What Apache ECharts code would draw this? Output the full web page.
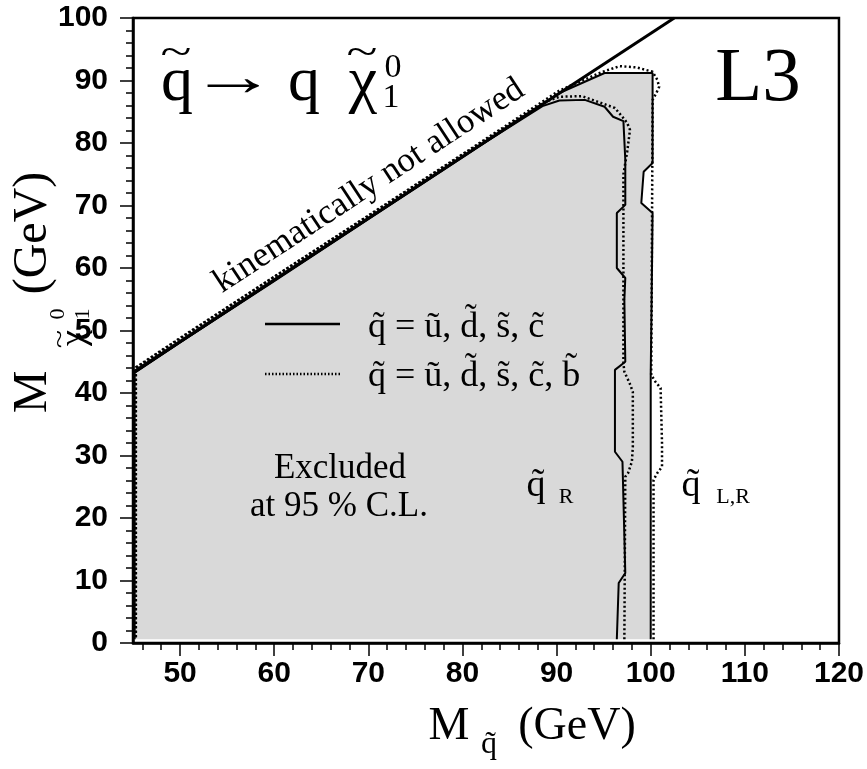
<!DOCTYPE html>
<html>
<head>
<meta charset="utf-8">
<script src="https://cdn.jsdelivr.net/npm/echarts@6/dist/echarts.min.js"></script>
<style>
html, body { margin: 0; padding: 0; background: #fff; }
#chart { width: 867px; height: 769px; }
</style>
</head>
<body>
<div id="chart"></div>
<script>
// Axis ticks
const xMajorTicks = [50, 60, 70, 80, 90, 100, 110, 120];
const xMinorTicks = [46, 48, 52, 54, 56, 58, 62, 64, 66, 68, 72, 74, 76, 78, 82, 84, 86, 88,
                     92, 94, 96, 98, 102, 104, 106, 108, 112, 114, 116, 118];

// Kinematic limit M_chi = M_squark
const kinLineX = [45, 102.5];
const kinLineY = [43.3, 100];

// Exclusion contour, q~ = u,d,s,c (left + right handed)
const outerSolidX = [100.0, 100.0, 100.1, 100.2, 99.0, 99.25, 100.2, 100.2, 95.1, 90.3, 80.0, 70.0, 60.0, 50.0, 45.15, 45.15];
const outerSolidY = [0.6, 43.0, 55.0, 68.8, 70.4, 75.4, 76.8, 91.2, 91.2, 88.0, 77.7, 67.8, 57.9, 48.1, 43.2, 0.6];

// Exclusion contour, q~ = u,d,s,c,b (left + right handed)
const outerDotX = [100.3, 100.3, 100.7, 101.2, 101.2, 101.05, 100.5, 100.05, 100.1, 100.2, 100.6, 100.9, 100.7, 100.2, 98.5, 96.7, 94.9, 90.3, 80.0, 70.0, 60.0, 50.0, 45.3, 45.3];
const outerDotY = [0.6, 26.1, 27.2, 28.2, 32.0, 40.8, 41.8, 42.9, 55.0, 86.9, 88.0, 89.0, 90.1, 91.4, 92.1, 92.3, 91.4, 88.4, 78.2, 68.4, 58.6, 48.8, 44.1, 0.6];

// Exclusion contour, q~ = u,d,s,c (right handed only)
const innerSolidX = [96.4, 96.6, 97.3, 97.0, 96.2, 96.2, 97.3, 97.2, 97.3, 96.4, 96.4, 97.3, 97.3, 97.1, 96.0, 95.1, 93.0, 90.3, 88.5, 80.0, 70.0, 60.0, 50.0, 45.15, 45.15];
const innerSolidY = [0.6, 9.6, 11.2, 29.0, 30.6, 43.7, 45.0, 54.9, 58.4, 60.0, 68.8, 70.1, 77.3, 83.5, 84.2, 85.8, 86.9, 86.8, 85.9, 77.8, 67.9, 58.0, 48.1, 43.25, 0.6];

// Exclusion contour, q~ = u,d,s,c,b (right handed only)
const innerDotX = [97.2, 97.3, 97.6, 98.0, 98.1, 98.1, 97.75, 97.2, 97.1, 97.1, 97.5, 97.8, 97.5, 97.2, 96.2, 95.1, 92.7, 90.3, 88.8, 80.0, 70.0, 60.0, 50.0, 45.3, 45.3];
const innerDotY = [0.6, 26.6, 27.2, 29.0, 31.4, 40.2, 41.6, 43.4, 44.8, 75.0, 78.6, 82.1, 83.2, 83.8, 85.6, 86.2, 87.5, 87.4, 86.6, 78.1, 68.3, 58.6, 48.7, 44.0, 0.6];

const SERIF = '"Liberation Serif", "Times New Roman", serif';
const SANS = '"Liberation Sans", Arial, sans-serif';

function pairs(xs, ys) { return xs.map((x, i) => [x, ys[i]]); }

function label(x, y, text, size, extra) {
  const el = {
    type: 'text', x: x, y: y, z: 100,
    style: { text: text, fontFamily: SERIF, fontSize: size, fill: '#000', align: 'center', verticalAlign: 'middle' }
  };
  if (extra) {
    if (extra.style) { Object.assign(el.style, extra.style); }
    ['rotation', 'scaleX', 'scaleY'].forEach(k => { if (extra[k] !== undefined) { el[k] = extra[k]; } });
  }
  return el;
}

// wide tilde accent drawn above a glyph
function tilde(x, y, size, extra) {
  return label(x, y, '~', size, Object.assign({ scaleX: 1.3, scaleY: 0.9 }, extra || {}));
}

const tickStyle = { color: '#000', width: 1.5 };
const contourLine = (name, xs, ys, dotted) => ({
  type: 'line', name: name, data: pairs(xs, ys), showSymbol: false, symbol: 'none',
  silent: true, z: 5,
  lineStyle: dotted
    ? { color: '#000', width: 2.5, type: [2, 2.5] }
    : { color: '#000', width: 2 }
});

const chart = echarts.init(document.getElementById('chart'));
chart.setOption({
  animation: false,
  backgroundColor: '#fff',
  grid: { left: 133, right: 28, top: 18, bottom: 126, show: true, borderColor: '#000', borderWidth: 2.5, backgroundColor: 'transparent' },
  xAxis: [{
    type: 'value', min: 45, max: 120, position: 'bottom',
    axisLine: { show: true, onZero: false, lineStyle: { color: '#000', width: 2.5 } },
    axisTick: { show: true, customValues: xMajorTicks, length: 13, lineStyle: tickStyle },
    axisLabel: { customValues: xMajorTicks, fontFamily: SANS, fontWeight: 'bold', fontSize: 30, color: '#000', margin: 16 },
    splitLine: { show: false }
  }, {
    type: 'value', min: 45, max: 120, position: 'bottom',
    axisLine: { show: false, onZero: false },
    axisTick: { show: true, customValues: xMinorTicks, length: 7, lineStyle: tickStyle },
    axisLabel: { show: false },
    splitLine: { show: false }
  }],
  yAxis: {
    type: 'value', min: 0, max: 100, interval: 10,
    axisLine: { show: true, lineStyle: { color: '#000', width: 2.5 } },
    axisTick: { show: true, length: 13, lineStyle: tickStyle },
    minorTick: { show: true, splitNumber: 5, length: 7, lineStyle: tickStyle },
    axisLabel: { fontFamily: SANS, fontWeight: 'bold', fontSize: 30, color: '#000', margin: 25 },
    splitLine: { show: false }, minorSplitLine: { show: false }
  },
  series: [
    {
      type: 'custom', name: 'excluded', silent: true, z: 1,
      data: pairs(outerSolidX, outerSolidY),
      encode: { x: 0, y: 1 },
      renderItem: function (params, api) {
        if (params.dataIndex !== 0) { return null; }
        const pts = outerSolidX.map((x, i) => api.coord([x, outerSolidY[i]]));
        return { type: 'polygon', shape: { points: pts }, style: { fill: '#d9d9d9', stroke: null } };
      }
    },
    contourLine('udsc L,R', outerSolidX, outerSolidY, false),
    contourLine('udscb L,R', outerDotX, outerDotY, true),
    contourLine('udsc R', innerSolidX, innerSolidY, false),
    contourLine('udscb R', innerDotX, innerDotY, true),
    {
      type: 'line', name: 'kinematic limit', data: pairs(kinLineX, kinLineY),
      showSymbol: false, symbol: 'none', silent: true, z: 6,
      lineStyle: { color: '#000', width: 3 }
    }
  ],
  graphic: [
    // process label
    label(177, 83, 'q', 64),
    tilde(176, 55, 44),
    label(233, 80, '\u2192', 56, { scaleX: 1.55 }),
    label(304, 83, 'q', 64),
    label(363, 83, '\u03C7', 64),
    tilde(362, 55, 44),
    label(393, 68, '0', 34),
    label(391, 98, '1', 34),
    // experiment
    label(758, 80, 'L3', 77),
    // kinematic boundary
    label(369, 186, 'kinematically not allowed', 35, { rotation: 33.25 * Math.PI / 180 }),
    // legend
    { type: 'line', z: 100, shape: { x1: 265, y1: 324, x2: 340, y2: 324 }, style: { stroke: '#000', lineWidth: 2.5 } },
    { type: 'line', z: 100, shape: { x1: 265, y1: 374, x2: 340, y2: 374 }, style: { stroke: '#000', lineWidth: 2.5, lineDash: [1.5, 2] } },
    label(368, 328, 'q\u0303 = u\u0303, d\u0303, s\u0303, c\u0303', 36, { style: { align: 'left' } }),
    label(368, 377, 'q\u0303 = u\u0303, d\u0303, s\u0303, c\u0303, b\u0303', 36, { style: { align: 'left' } }),
    // excluded region
    label(340, 469, 'Excluded', 35),
    label(339, 507, 'at 95 % C.L.', 35),
    // contour labels
    label(536, 486, 'q\u0303', 38),
    label(566, 497, 'R', 22),
    label(691, 486, 'q\u0303', 38),
    label(733, 497, 'L,R', 22),
    // x axis title
    label(449, 727, 'M', 46),
    label(489, 745, 'q\u0303', 32),
    label(577, 727, '(GeV)', 46),
    // y axis title
    label(33, 392, 'M', 48, { rotation: Math.PI / 2 }),
    label(75, 338, '\u03C7', 36, { rotation: Math.PI / 2 }),
    tilde(61, 339, 26, { rotation: Math.PI / 2 }),
    label(58, 314, '0', 22, { rotation: Math.PI / 2 }),
    label(83, 314, '1', 22, { rotation: Math.PI / 2 }),
    label(33, 233, '(GeV)', 48, { rotation: Math.PI / 2 })
  ]
});
</script>
</body>
</html>
